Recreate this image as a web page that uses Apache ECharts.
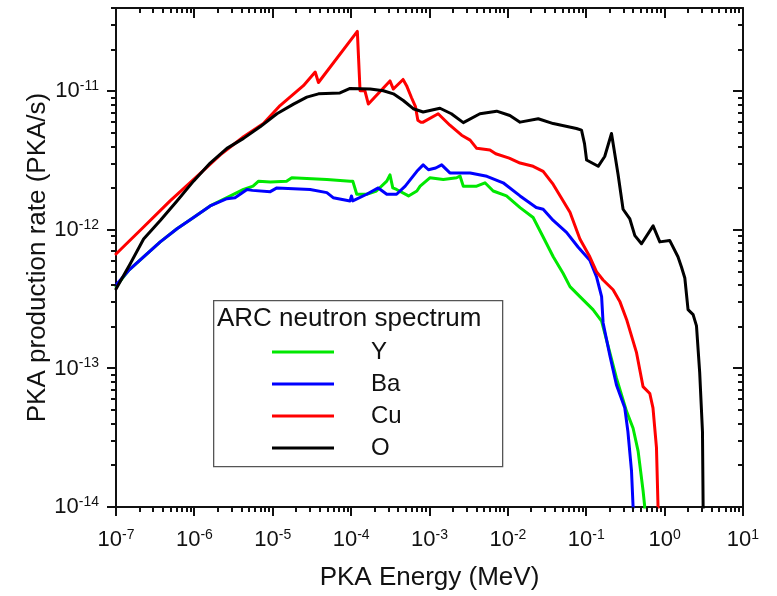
<!DOCTYPE html>
<html><head><meta charset="utf-8">
<script src="https://cdn.jsdelivr.net/npm/echarts@6/dist/echarts.min.js"></script>
<style>html,body{margin:0;padding:0;background:#fff}#c{width:777px;height:596px}</style>
</head><body><div id="c"></div>
<script>
const seriesNames = ['Y', 'Ba', 'Cu', 'O'];
const seriesColors = ['#00e800', '#0000ff', '#ff0000', '#000000'];

const yEnergy = [1e-7,1.45e-7,2.25e-7,3.67e-7,6.0e-7,9.75e-7,1.59e-6,2.6e-6,4.24e-6,5.6e-6,6.6e-6,9.3e-6,1.5e-5,1.75e-5,4.9e-5,9.7e-5,1.05e-4,1.18e-4,1.58e-4,2.1e-4,2.85e-4,3.13e-4,3.4e-4,3.8e-4,5.4e-4,6.9e-4,7.6e-4,1.01e-3,1.5e-3,2.22e-3,2.45e-3,2.7e-3,4.0e-3,5.1e-3,6.5e-3,9.6e-3,1.43e-2,2.1e-2,2.82e-2,3.79e-2,5.08e-2,6.2e-2,8.3e-2,0.122,0.157,0.2,0.243,0.327,0.396,0.459,0.531,0.558,0.565];
const yRate = [3.9e-13,5.1e-13,6.4e-13,8.2e-13,1.02e-12,1.23e-12,1.49e-12,1.71e-12,1.96e-12,2.07e-12,2.25e-12,2.22e-12,2.25e-12,2.38e-12,2.31e-12,2.25e-12,2.25e-12,1.81e-12,1.81e-12,1.91e-12,2.25e-12,2.5e-12,2.01e-12,1.96e-12,1.76e-12,1.91e-12,2.07e-12,2.38e-12,2.31e-12,2.38e-12,2.45e-12,2.07e-12,2.07e-12,2.19e-12,1.91e-12,1.76e-12,1.45e-12,1.23e-12,8.9e-13,6.4e-13,4.85e-13,3.9e-13,3.3e-13,2.66e-13,2.2e-13,1.3e-13,8.5e-14,4.9e-14,3.7e-14,2.53e-14,1.31e-14,1e-14,6e-15];

const baEnergy = [1e-7,1.45e-7,2.25e-7,3.67e-7,6.0e-7,9.75e-7,1.59e-6,2.6e-6,3.3e-6,4.7e-6,5.5e-6,9.3e-6,1.13e-5,3.0e-5,4.9e-5,5.9e-5,9.7e-5,1.01e-4,1.05e-4,1.58e-4,2.22e-4,2.85e-4,3.8e-4,4.9e-4,6.9e-4,8.3e-4,9.7e-4,1.2e-3,1.43e-3,1.82e-3,3.3e-3,5.4e-3,8.7e-3,1.43e-2,2.3e-2,2.82e-2,3.79e-2,5.6e-2,7.9e-2,0.111,0.135,0.157,0.164,0.2,0.243,0.31,0.34,0.378,0.396,0.40];
const baRate = [4.0e-13,5.1e-13,6.4e-13,8.2e-13,1.02e-12,1.23e-12,1.49e-12,1.68e-12,1.71e-12,1.96e-12,1.93e-12,1.89e-12,2.01e-12,1.96e-12,1.86e-12,1.71e-12,1.62e-12,1.76e-12,1.62e-12,1.81e-12,2.01e-12,1.81e-12,1.81e-12,2.07e-12,2.65e-12,2.95e-12,2.72e-12,2.8e-12,2.95e-12,2.58e-12,2.58e-12,2.44e-12,2.19e-12,1.76e-12,1.45e-12,1.41e-12,1.17e-12,9.6e-13,7.5e-13,6.05e-13,4.6e-13,3.3e-13,2.14e-13,1.24e-13,7.6e-14,5.2e-14,3.5e-14,1.82e-14,1e-14,6e-15];

const cuEnergy = [1e-7,2.25e-7,4.9e-7,1.08e-6,2.14e-6,4.24e-6,7.6e-6,1.24e-5,2.46e-5,3.48e-5,3.83e-5,1.2e-4,1.3e-4,1.5e-4,1.66e-4,3.13e-4,3.46e-4,4.6e-4,5.1e-4,5.4e-4,5.9e-4,6.6e-4,7.1e-4,7.7e-4,8.3e-4,1.29e-3,1.82e-3,2.57e-3,3.3e-3,4.0e-3,5.9e-3,7.0e-3,1.04e-2,1.43e-2,2.1e-2,2.82e-2,3.79e-2,5.08e-2,6.2e-2,8.3e-2,0.111,0.135,0.164,0.22,0.268,0.327,0.438,0.53,0.647,0.71,0.787,0.824,0.83];
const cuRate = [6.7e-13,1.05e-12,1.62e-12,2.44e-12,3.48e-12,4.71e-12,5.86e-12,7.9e-12,1.1e-11,1.38e-11,1.16e-11,2.71e-11,1.01e-11,1.01e-11,8.1e-12,1.19e-11,1.04e-11,1.22e-11,1.1e-11,1.13e-11,9e-12,7.8e-12,6.2e-12,6.0e-12,6.0e-12,6.9e-12,5.7e-12,4.83e-12,4.45e-12,3.88e-12,3.78e-12,3.55e-12,3.3e-12,3.04e-12,2.88e-12,2.65e-12,2.13e-12,1.62e-12,1.34e-12,8.6e-13,6.4e-13,5.0e-13,4.35e-13,3.7e-13,3.05e-13,2.26e-13,1.3e-13,7.4e-14,6.6e-14,5.2e-14,2.68e-14,1e-14,6e-15];

const oEnergy = [1e-7,1.52e-7,2.25e-7,3.67e-7,6.0e-7,9.75e-7,1.59e-6,2.6e-6,4.24e-6,6.9e-6,1.13e-5,1.84e-5,2.72e-5,3.83e-5,7.2e-5,9.7e-5,1.75e-4,2.58e-4,3.46e-4,4.63e-4,6.2e-4,8.3e-4,1.36e-3,1.9e-3,2.7e-3,4.4e-3,7.2e-3,1.06e-2,1.43e-2,2.44e-2,3.79e-2,7.5e-2,8.7e-2,0.095,0.101,0.142,0.172,0.21,0.255,0.295,0.36,0.417,0.507,0.713,0.868,1.16,1.48,1.64,1.81,1.99,2.31,2.55,2.8,3.04,3.1,3.12];
const oRate = [3.75e-13,5.7e-13,8.6e-13,1.17e-12,1.62e-12,2.25e-12,3.04e-12,3.88e-12,4.58e-12,5.55e-12,6.9e-12,8.1e-12,9.1e-12,9.6e-12,9.75e-12,1.05e-11,1.04e-11,1.01e-11,9.6e-12,8.6e-12,7.5e-12,7.1e-12,7.56e-12,6.9e-12,5.95e-12,6.9e-12,7.2e-12,6.7e-12,6.0e-12,6.35e-12,5.86e-12,5.4e-12,5.25e-12,4.2e-12,3.2e-12,2.88e-12,3.39e-12,4.97e-12,2.5e-12,1.41e-12,1.2e-12,9.1e-13,7.95e-13,1.07e-12,8.2e-13,8.4e-13,6.4e-13,5.4e-13,4.5e-13,2.66e-13,2.45e-13,2.03e-13,9.4e-14,3.5e-14,1e-14,6e-15];

const xTickExponents = [-7, -6, -5, -4, -3, -2, -1, 0, 1];
const yTickExponents = [-14, -13, -12, -11];
const xMin = 1e-7, xMax = 10, yMin = 1e-14, yMax = 4e-11;

const FONT = 'Liberation Sans, Arial, sans-serif';
const AX = '#111';

const xMajor = xTickExponents.map(e => Math.pow(10, e));
const yMajor = yTickExponents.map(e => Math.pow(10, e));
const xMinor = [], yMinor = [];
xTickExponents.slice(0, -1).forEach(e => { for (let k = 2; k <= 9; k++) xMinor.push(k * Math.pow(10, e)); });
yTickExponents.forEach(e => { for (let k = 2; k <= 9; k++) { const v = k * Math.pow(10, e); if (v <= yMax * 1.0001) yMinor.push(v); } });

const chart = echarts.init(document.getElementById('c'), null, { renderer: 'canvas' });

function labelFmt(v) {
  const e = Math.log10(v);
  const r = Math.round(e);
  if (Math.abs(e - r) > 1e-6) return '';
  return '{b|10}{s|' + r + '}';
}
const labelRich = {
  b: { fontSize: 22, fontFamily: FONT, color: AX, lineHeight: 24 },
  s: { fontSize: 14, fontFamily: FONT, color: AX, verticalAlign: 'top', lineHeight: 14 }
};

function tickSeries(values, dir, outLen, inLen) {
  return {
    type: 'custom', silent: true, z: 10, clip: false, animation: false,
    xAxisIndex: 0, yAxisIndex: 0,
    data: values.map(v => dir === 'x' ? [v, yMin] : [xMin, v]),
    renderItem: function (params, api) {
      const cs = params.coordSys;
      const p = api.coord([api.value(0), api.value(1)]);
      const st = { stroke: AX, lineWidth: 2 };
      if (dir === 'x') {
        const x = Math.round(p[0]);
        const b = cs.y + cs.height, t = cs.y;
        return { type: 'group', children: [
          { type: 'line', shape: { x1: x, y1: b, x2: x, y2: b + outLen }, style: st },
          { type: 'line', shape: { x1: x, y1: t, x2: x, y2: t + inLen }, style: st }
        ] };
      } else {
        const y = Math.round(p[1]);
        const l = cs.x, r = cs.x + cs.width;
        return { type: 'group', children: [
          { type: 'line', shape: { x1: l, y1: y, x2: l - outLen, y2: y }, style: st },
          { type: 'line', shape: { x1: r, y1: y, x2: r - inLen, y2: y }, style: st }
        ] };
      }
    }
  };
}

const energies = [yEnergy, baEnergy, cuEnergy, oEnergy];
const rates = [yRate, baRate, cuRate, oRate];
const lineSeries = seriesNames.map((name, i) => ({
  name: name, type: 'line', xAxisIndex: 0, yAxisIndex: 0,
  data: energies[i].map((e, j) => [e, rates[i][j]]),
  showSymbol: false, symbol: 'none', clip: true, animation: false,
  lineStyle: { color: seriesColors[i], width: 3, join: 'round', cap: 'round' },
  itemStyle: { color: seriesColors[i] }
}));

const option = {
  backgroundColor: '#fff',
  animation: false,
  grid: { left: 116, top: 8, right: 34, bottom: 83, containLabel: false },
  xAxis: [
    {
      type: 'log', position: 'bottom', min: xMin, max: xMax, logBase: 10, splitNumber: 8,
      name: 'PKA Energy (MeV)', nameLocation: 'middle', nameGap: 58, nameMoveOverlap: false,
      nameTextStyle: { fontSize: 26, fontFamily: FONT, color: AX },
      axisLine: { show: true, lineStyle: { color: AX, width: 2 } },
      axisTick: { show: false }, minorTick: { show: false },
      splitLine: { show: false },
      axisLabel: { show: true, margin: 21, formatter: labelFmt, rich: labelRich, showMinLabel: true, showMaxLabel: true }
    },
    {
      type: 'log', position: 'top', min: xMin, max: xMax, logBase: 10,
      axisLine: { show: true, lineStyle: { color: AX, width: 2 } },
      axisTick: { show: false }, axisLabel: { show: false }, splitLine: { show: false }
    }
  ],
  yAxis: [
    {
      type: 'log', position: 'left', min: yMin, max: yMax, logBase: 10, splitNumber: 4,
      name: 'PKA production rate (PKA/s)', nameLocation: 'middle', nameGap: 65, nameMoveOverlap: false,
      nameTextStyle: { fontSize: 26, fontFamily: FONT, color: AX },
      axisLine: { show: true, lineStyle: { color: AX, width: 2 } },
      axisTick: { show: false }, minorTick: { show: false },
      splitLine: { show: false },
      axisLabel: { show: true, margin: 17, formatter: labelFmt, rich: labelRich, showMinLabel: true, showMaxLabel: true }
    },
    {
      type: 'log', position: 'right', min: yMin, max: yMax, logBase: 10,
      axisLine: { show: true, lineStyle: { color: AX, width: 2 } },
      axisTick: { show: false }, axisLabel: { show: false }, splitLine: { show: false }
    }
  ],
  legend: {
    data: seriesNames, orient: 'vertical', left: 267, top: 333,
    itemWidth: 62, itemHeight: 3, itemGap: 4, icon: 'rect', selectedMode: false,
    textStyle: { fontSize: 24, fontFamily: FONT, color: AX, padding: [0, 0, 0, 32], lineHeight: 28 }
  },
  graphic: [
    { type: 'rect', left: 213, top: 300, z: 5, shape: { width: 289, height: 166 },
      style: { fill: 'rgba(0,0,0,0)', stroke: '#555', lineWidth: 1.3 } },
    { type: 'text', left: 217, top: 306, z: 6,
      style: { text: 'ARC neutron spectrum', fontSize: 26, fontFamily: FONT, fill: AX } }
  ],
  series: lineSeries.concat([
    tickSeries(xMajor, 'x', 9, 10),
    tickSeries(xMinor, 'x', 5, 5),
    tickSeries(yMajor, 'y', 9, 10),
    tickSeries(yMinor, 'y', 5, 5)
  ])
};
chart.setOption(option);
</script>
</body></html>
